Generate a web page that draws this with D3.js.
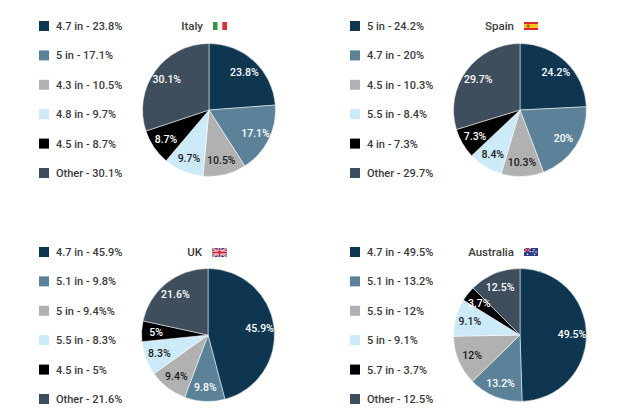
<!DOCTYPE html>
<html>
<head>
<meta charset="utf-8">
<script src="https://cdn.jsdelivr.net/npm/d3@7"></script>
<style>
  html, body { margin: 0; padding: 0; background: #fff; }
  svg { display: block; font-family: Roboto, "Open Sans", sans-serif; }
</style>
</head>
<body>
<svg id="chart" width="631" height="419"></svg>
<script>
// ---- data ----
const countries = ["Italy", "Spain", "UK", "Australia"];

const italySizes = ["4.7 in", "5 in", "4.3 in", "4.8 in", "4.5 in", "Other"];
const italyValues = [23.8, 17.1, 10.5, 9.7, 8.7, 30.1];

const spainSizes = ["5 in", "4.7 in", "4.5 in", "5.5 in", "4 in", "Other"];
const spainValues = [24.2, 20, 10.3, 8.4, 7.3, 29.7];

const ukSizes = ["4.7 in", "5.1 in", "5 in", "5.5 in", "4.5 in", "Other"];
const ukValues = [45.9, 9.8, 9.4, 8.3, 5, 21.6];
const ukLegendLabels = ["4.7 in - 45.9%", "5.1 in - 9.8%", "5 in - 9.4%%", "5.5 in - 8.3%", "4.5 in - 5%", "Other - 21.6%"];

const auSizes = ["4.7 in", "5.1 in", "5.5 in", "5 in", "5.7 in", "Other"];
const auValues = [49.5, 13.2, 12, 9.1, 3.7, 12.5];

const sliceColors = ["#0e3650", "#5b8298", "#b1b1b1", "#cdeaf9", "#000000", "#3e4e5d"];
const labelColors = ["#ffffff", "#ffffff", "#1a1a1a", "#1a1a1a", "#ffffff", "#ffffff"];

function legendLabels(sizes, values) {
  return sizes.map((s, i) => s + " - " + values[i] + "%");
}

const panels = [
  { name: countries[0], sizes: italySizes, values: italyValues, legend: legendLabels(italySizes, italyValues), flag: "it" },
  { name: countries[1], sizes: spainSizes, values: spainValues, legend: legendLabels(spainSizes, spainValues), flag: "es" },
  { name: countries[2], sizes: ukSizes, values: ukValues, legend: ukLegendLabels, flag: "uk" },
  { name: countries[3], sizes: auSizes, values: auValues, legend: legendLabels(auSizes, auValues), flag: "au" }
];

// ---- layout ----
const layout = [
  { legendX: 39, cx: 209, cy: 110, legendY: 26, titleY: 26 },
  { legendX: 350, cx: 520, cy: 110, legendY: 26, titleY: 26 },
  { legendX: 39, cx: 208, cy: 335, legendY: 252, titleY: 252 },
  { legendX: 350, cx: 520, cy: 335, legendY: 252, titleY: 252 }
];
const R = 66.5;
const labelR = 52;
const rowStep = 29.4;

const svg = d3.select("#chart");

const pie = d3.pie().sort(null).value(d => d);
const arc = d3.arc().innerRadius(0).outerRadius(R);
const labelArc = d3.arc().innerRadius(labelR).outerRadius(labelR);

function drawFlag(g, type, x, y) {
  const w = 14, h = 8;
  const f = g.append("g").attr("transform", `translate(${x},${y})`);
  if (type === "it") {
    f.append("rect").attr("width", w / 3).attr("height", h).attr("fill", "#2e9a48");
    f.append("rect").attr("x", w / 3).attr("width", w / 3).attr("height", h).attr("fill", "#f4f4f4");
    f.append("rect").attr("x", 2 * w / 3).attr("width", w / 3).attr("height", h).attr("fill", "#d92f3a");
  } else if (type === "es") {
    f.append("rect").attr("width", w).attr("height", h).attr("fill", "#d6282d");
    f.append("rect").attr("y", h / 4).attr("width", w).attr("height", h / 2).attr("fill", "#f6c21c");
    f.append("rect").attr("x", 3).attr("y", 2.6).attr("width", 2.5).attr("height", 2.8).attr("fill", "#b5472a");
  } else if (type === "uk") {
    const W = 15, H = 9;
    f.append("rect").attr("width", W).attr("height", H).attr("fill", "#2b3d8a");
    f.append("line").attr("x1", 0).attr("y1", 0).attr("x2", W).attr("y2", H).attr("stroke", "#fff").attr("stroke-width", 2);
    f.append("line").attr("x1", W).attr("y1", 0).attr("x2", 0).attr("y2", H).attr("stroke", "#fff").attr("stroke-width", 2);
    f.append("line").attr("x1", 0).attr("y1", 0).attr("x2", W).attr("y2", H).attr("stroke", "#d0243a").attr("stroke-width", 0.8);
    f.append("line").attr("x1", W).attr("y1", 0).attr("x2", 0).attr("y2", H).attr("stroke", "#d0243a").attr("stroke-width", 0.8);
    f.append("rect").attr("x", W / 2 - 1.8).attr("width", 3.6).attr("height", H).attr("fill", "#fff");
    f.append("rect").attr("y", H / 2 - 1.8).attr("width", W).attr("height", 3.6).attr("fill", "#fff");
    f.append("rect").attr("x", W / 2 - 1).attr("width", 2).attr("height", H).attr("fill", "#d0243a");
    f.append("rect").attr("y", H / 2 - 1).attr("width", W).attr("height", 2).attr("fill", "#d0243a");
  } else if (type === "au") {
    f.append("rect").attr("width", w).attr("height", h).attr("fill", "#2a3c86");
    f.append("rect").attr("width", 7).attr("height", 4).attr("fill", "#2a3c86");
    f.append("line").attr("x1", 0).attr("y1", 0).attr("x2", 7).attr("y2", 4).attr("stroke", "#fff").attr("stroke-width", 0.9);
    f.append("line").attr("x1", 7).attr("y1", 0).attr("x2", 0).attr("y2", 4).attr("stroke", "#fff").attr("stroke-width", 0.9);
    f.append("rect").attr("x", 3).attr("width", 1.2).attr("height", 4).attr("fill", "#d0243a");
    f.append("rect").attr("y", 1.5).attr("width", 7).attr("height", 1.1).attr("fill", "#d0243a");
    [[3.5, 6.2], [10, 1.8], [12, 4], [10.5, 6.5], [8.8, 3.8]].forEach(p => {
      f.append("circle").attr("cx", p[0]).attr("cy", p[1]).attr("r", 0.8).attr("fill", "#fff");
    });
  }
}

panels.forEach((p, i) => {
  const L = layout[i];
  const g = svg.append("g");

  // legend
  const rows = g.selectAll(".row").data(p.legend).enter().append("g")
    .attr("transform", (d, j) => `translate(${L.legendX},${L.legendY + j * rowStep})`);
  rows.append("rect").attr("x", 0).attr("y", -5).attr("width", 10).attr("height", 10)
    .attr("fill", (d, j) => sliceColors[j]);
  rows.append("text").attr("x", 17).attr("y", 0).attr("dy", "0.36em")
    .attr("font-size", 11).attr("font-weight", 500).attr("fill", "#3b3b3b")
    .text(d => d);

  // title + flag
  const title = g.append("text").attr("x", L.cx - 6).attr("y", L.titleY).attr("dy", "0.36em")
    .attr("text-anchor", "end").attr("font-size", 11.5).attr("font-weight", 500).attr("fill", "#3b3b3b")
    .text(p.name);
  drawFlag(g, p.flag, L.cx + 4, L.titleY - 4);

  // pie
  const pg = g.append("g").attr("transform", `translate(${L.cx},${L.cy})`);
  const arcs = pie(p.values);
  pg.selectAll("path").data(arcs).enter().append("path")
    .attr("d", arc).attr("fill", (d, j) => sliceColors[j])
    .attr("stroke", "#fff").attr("stroke-width", 0.5);
  pg.selectAll("text.lbl").data(arcs).enter().append("text").attr("class", "lbl")
    .attr("transform", d => `translate(${labelArc.centroid(d)})`)
    .attr("text-anchor", "middle").attr("dy", "0.36em")
    .attr("font-size", 10.5).attr("font-weight", 500)
    .attr("fill", (d, j) => labelColors[j])
    .text(d => d.data + "%");
});
</script>
</body>
</html>
